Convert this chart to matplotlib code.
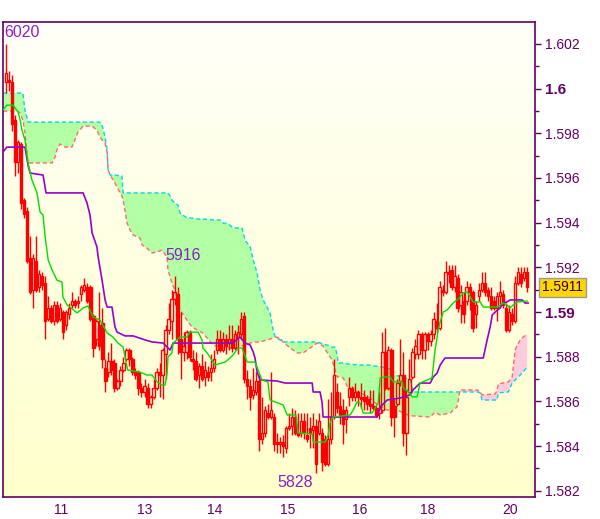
import numpy as np
import matplotlib.pyplot as plt
from matplotlib.patches import Rectangle
from matplotlib.colors import LinearSegmentedColormap
from matplotlib.ticker import MultipleLocator
import matplotlib.transforms as mtransforms

plt.rcParams['font.family'] = ['Liberation Sans', 'DejaVu Sans']

#---------------
# DATA (hourly bars)
#---------------
opens = [1.6003, 1.6004, 1.6003, 1.5986, 1.5967, 1.5975, 1.5950, 1.5945, 1.5924, 1.5910,
         1.5923, 1.5911, 1.5916, 1.5913, 1.5897, 1.5902, 1.5896, 1.5903, 1.5897, 1.5900,
         1.5894, 1.5899, 1.5903, 1.5905, 1.5904, 1.5908, 1.5910, 1.5911, 1.5911, 1.5898,
         1.5888, 1.5894, 1.5895, 1.5875, 1.5873, 1.5878, 1.5877, 1.5866, 1.5869, 1.5874,
         1.5879, 1.5883, 1.5879, 1.5873, 1.5873, 1.5866, 1.5864, 1.5866, 1.5859, 1.5862,
         1.5866, 1.5873, 1.5872, 1.5881, 1.5892, 1.5896, 1.5906, 1.5908, 1.5888, 1.5882,
         1.5882, 1.5891, 1.5879, 1.5878, 1.5872, 1.5876, 1.5871, 1.5873, 1.5873, 1.5875,
         1.5883, 1.5888, 1.5883, 1.5888, 1.5886, 1.5888, 1.5884, 1.5889, 1.5890, 1.5898,
         1.5870, 1.5867, 1.5863, 1.5864, 1.5869, 1.5843, 1.5846, 1.5855, 1.5853, 1.5853,
         1.5842, 1.5841, 1.5842, 1.5839, 1.5848, 1.5849, 1.5853, 1.5846, 1.5846, 1.5851,
         1.5845, 1.5848, 1.5847, 1.5849, 1.5846, 1.5846, 1.5843, 1.5832, 1.5843, 1.5853,
         1.5864, 1.5858, 1.5856, 1.5852, 1.5862, 1.5866, 1.5862, 1.5864, 1.5862, 1.5862,
         1.5861, 1.5859, 1.5858, 1.5857, 1.5855, 1.5856, 1.5882, 1.5866, 1.5883, 1.5858,
         1.5859, 1.5869, 1.5872, 1.5846, 1.5864, 1.5871, 1.5881, 1.5881, 1.5890, 1.5883,
         1.5890, 1.5887, 1.5890, 1.5896, 1.5893, 1.5910, 1.5909, 1.5918, 1.5919, 1.5911,
         1.5915, 1.5903, 1.5905, 1.5905, 1.5911, 1.5909, 1.5899, 1.5907, 1.5910, 1.5913,
         1.5910, 1.5907, 1.5905, 1.5902, 1.5907, 1.5908, 1.5902, 1.5892, 1.5899, 1.5896,
         1.5913, 1.5917, 1.5915, 1.5918]
highs = [1.6020, 1.6008, 1.6006, 1.5988, 1.5977, 1.5976, 1.5951, 1.5947, 1.5934, 1.5926,
         1.5934, 1.5919, 1.5918, 1.5916, 1.5907, 1.5903, 1.5905, 1.5905, 1.5904, 1.5901,
         1.5901, 1.5904, 1.5909, 1.5906, 1.5907, 1.5912, 1.5915, 1.5913, 1.5912, 1.5899,
         1.5897, 1.5909, 1.5902, 1.5879, 1.5882, 1.5886, 1.5879, 1.5870, 1.5876, 1.5880,
         1.5884, 1.5884, 1.5880, 1.5875, 1.5874, 1.5868, 1.5870, 1.5868, 1.5863, 1.5870,
         1.5875, 1.5877, 1.5884, 1.5894, 1.5904, 1.5910, 1.5916, 1.5911, 1.5900, 1.5891,
         1.5892, 1.5892, 1.5883, 1.5882, 1.5877, 1.5881, 1.5878, 1.5876, 1.5881, 1.5883,
         1.5892, 1.5892, 1.5891, 1.5890, 1.5894, 1.5894, 1.5892, 1.5894, 1.5900, 1.5900,
         1.5874, 1.5870, 1.5875, 1.5873, 1.5872, 1.5862, 1.5858, 1.5859, 1.5873, 1.5855,
         1.5846, 1.5844, 1.5845, 1.5849, 1.5855, 1.5857, 1.5856, 1.5855, 1.5855, 1.5855,
         1.5855, 1.5853, 1.5855, 1.5852, 1.5855, 1.5848, 1.5845, 1.5861, 1.5864, 1.5879,
         1.5868, 1.5864, 1.5861, 1.5858, 1.5871, 1.5867, 1.5868, 1.5865, 1.5868, 1.5865,
         1.5863, 1.5865, 1.5865, 1.5859, 1.5864, 1.5891, 1.5893, 1.5885, 1.5884, 1.5861,
         1.5870, 1.5888, 1.5882, 1.5865, 1.5879, 1.5884, 1.5888, 1.5892, 1.5891, 1.5891,
         1.5891, 1.5892, 1.5900, 1.5904, 1.5914, 1.5912, 1.5923, 1.5921, 1.5921, 1.5921,
         1.5917, 1.5912, 1.5909, 1.5914, 1.5913, 1.5910, 1.5905, 1.5913, 1.5918, 1.5918,
         1.5911, 1.5911, 1.5907, 1.5909, 1.5914, 1.5910, 1.5904, 1.5903, 1.5902, 1.5916,
         1.5920, 1.5920, 1.5920, 1.5920]
lows = [1.5998, 1.5999, 1.5981, 1.5961, 1.5962, 1.5946, 1.5942, 1.5922, 1.5908, 1.5902,
        1.5909, 1.5909, 1.5910, 1.5888, 1.5896, 1.5895, 1.5894, 1.5895, 1.5896, 1.5888,
        1.5892, 1.5897, 1.5902, 1.5902, 1.5902, 1.5905, 1.5909, 1.5904, 1.5896, 1.5880,
        1.5885, 1.5883, 1.5875, 1.5864, 1.5871, 1.5872, 1.5864, 1.5865, 1.5867, 1.5873,
        1.5878, 1.5876, 1.5872, 1.5870, 1.5863, 1.5862, 1.5862, 1.5857, 1.5857, 1.5861,
        1.5865, 1.5862, 1.5861, 1.5870, 1.5890, 1.5888, 1.5903, 1.5881, 1.5870, 1.5878,
        1.5879, 1.5878, 1.5874, 1.5869, 1.5866, 1.5869, 1.5867, 1.5869, 1.5869, 1.5873,
        1.5881, 1.5882, 1.5882, 1.5881, 1.5883, 1.5882, 1.5883, 1.5881, 1.5888, 1.5868,
        1.5861, 1.5856, 1.5861, 1.5863, 1.5838, 1.5841, 1.5844, 1.5852, 1.5852, 1.5838,
        1.5837, 1.5837, 1.5835, 1.5837, 1.5847, 1.5845, 1.5845, 1.5844, 1.5844, 1.5843,
        1.5842, 1.5839, 1.5839, 1.5828, 1.5845, 1.5829, 1.5831, 1.5831, 1.5841, 1.5852,
        1.5855, 1.5850, 1.5841, 1.5846, 1.5858, 1.5860, 1.5860, 1.5858, 1.5857, 1.5856,
        1.5856, 1.5855, 1.5856, 1.5853, 1.5852, 1.5855, 1.5865, 1.5865, 1.5849, 1.5844,
        1.5858, 1.5867, 1.5840, 1.5836, 1.5863, 1.5870, 1.5879, 1.5879, 1.5879, 1.5879,
        1.5883, 1.5885, 1.5888, 1.5891, 1.5892, 1.5907, 1.5908, 1.5913, 1.5910, 1.5909,
        1.5900, 1.5895, 1.5895, 1.5903, 1.5901, 1.5891, 1.5893, 1.5905, 1.5909, 1.5907,
        1.5905, 1.5901, 1.5901, 1.5896, 1.5902, 1.5902, 1.5891, 1.5891, 1.5894, 1.5895,
        1.5912, 1.5911, 1.5914, 1.5909]
closes = [1.6007, 1.6003, 1.5984, 1.5967, 1.5976, 1.5949, 1.5944, 1.5923, 1.5909, 1.5924,
          1.5910, 1.5917, 1.5912, 1.5896, 1.5902, 1.5896, 1.5903, 1.5896, 1.5902, 1.5891,
          1.5900, 1.5902, 1.5905, 1.5903, 1.5905, 1.5911, 1.5912, 1.5905, 1.5897, 1.5884,
          1.5896, 1.5885, 1.5879, 1.5869, 1.5878, 1.5874, 1.5866, 1.5869, 1.5874, 1.5877,
          1.5883, 1.5879, 1.5873, 1.5872, 1.5866, 1.5864, 1.5867, 1.5859, 1.5862, 1.5866,
          1.5873, 1.5872, 1.5883, 1.5892, 1.5897, 1.5906, 1.5909, 1.5888, 1.5882, 1.5885,
          1.5891, 1.5880, 1.5878, 1.5870, 1.5876, 1.5870, 1.5874, 1.5871, 1.5875, 1.5879,
          1.5888, 1.5883, 1.5888, 1.5885, 1.5888, 1.5884, 1.5890, 1.5891, 1.5897, 1.5870,
          1.5867, 1.5862, 1.5865, 1.5869, 1.5843, 1.5846, 1.5856, 1.5853, 1.5856, 1.5841,
          1.5841, 1.5842, 1.5840, 1.5848, 1.5849, 1.5853, 1.5846, 1.5845, 1.5851, 1.5846,
          1.5843, 1.5846, 1.5849, 1.5832, 1.5851, 1.5833, 1.5832, 1.5843, 1.5853, 1.5872,
          1.5857, 1.5854, 1.5850, 1.5856, 1.5866, 1.5862, 1.5864, 1.5862, 1.5861, 1.5860,
          1.5859, 1.5858, 1.5857, 1.5854, 1.5857, 1.5882, 1.5866, 1.5883, 1.5853, 1.5853,
          1.5868, 1.5872, 1.5846, 1.5862, 1.5870, 1.5882, 1.5885, 1.5890, 1.5883, 1.5890,
          1.5887, 1.5890, 1.5897, 1.5893, 1.5911, 1.5909, 1.5918, 1.5917, 1.5911, 1.5916,
          1.5902, 1.5909, 1.5899, 1.5911, 1.5909, 1.5893, 1.5903, 1.5910, 1.5913, 1.5909,
          1.5907, 1.5902, 1.5902, 1.5907, 1.5909, 1.5903, 1.5892, 1.5900, 1.5896, 1.5913,
          1.5918, 1.5913, 1.5918, 1.5911]

# conversion line (green) and base line (purple): bar position, price
tenkan_x = [-1.0, 0.3, 2.3, 4.0, 4.7, 5.3, 6.3, 7.3, 8.6, 10.3, 11.3, 12.3, 13.0, 14.0,
            15.3, 16.9, 18.6, 18.9, 20.3, 21.3, 23.6, 25.6, 27.2, 28.9, 31.2, 33.6, 35.5,
            37.2, 38.9, 40.2, 40.5, 44.5, 46.8, 48.5, 50.2, 51.8, 52.8, 53.5, 53.8, 55.1,
            55.5, 57.8, 60.1, 61.1, 63.8, 65.1, 65.4, 66.8, 69.4, 72.8, 74.4, 75.4, 77.1,
            78.4, 80.1, 82.7, 85.0, 87.0, 87.7, 92.0, 93.4, 96.3, 97.0, 101.7, 102.0, 106.0,
            107.0, 107.6, 108.6, 114.3, 115.3, 116.6, 117.6, 118.6, 121.6, 122.6, 123.6,
            124.3, 125.9, 127.6, 128.6, 131.6, 131.9, 132.6, 133.2, 134.9, 136.5, 136.9,
            137.5, 141.5, 141.9, 142.5, 143.2, 143.5, 144.2, 145.2, 146.5, 148.5, 149.8,
            150.8, 151.8, 153.2, 154.2, 155.1, 157.5, 158.5, 163.1, 164.1, 165.1, 166.4,
            167.4, 168.4, 169.8, 173.1]
tenkan = [1.59904, 1.59926, 1.59926, 1.59895, 1.59859, 1.59814, 1.59770, 1.59667, 1.59591,
          1.59533, 1.59448, 1.59434, 1.59336, 1.59233, 1.59188, 1.59143, 1.59134, 1.59067,
          1.59031, 1.59022, 1.58996, 1.59018, 1.59027, 1.58978, 1.58964, 1.58906, 1.58888,
          1.58861, 1.58843, 1.58754, 1.58740, 1.58731, 1.58718, 1.58718, 1.58687, 1.58673,
          1.58673, 1.58727, 1.58799, 1.58817, 1.58861, 1.58888, 1.58888, 1.58910, 1.58910,
          1.58875, 1.58839, 1.58817, 1.58763, 1.58776, 1.58794, 1.58808, 1.58839, 1.58839,
          1.58776, 1.58776, 1.58696, 1.58687, 1.58606, 1.58584, 1.58539, 1.58539, 1.58459,
          1.58454, 1.58418, 1.58418, 1.58450, 1.58503, 1.58530, 1.58539, 1.58561, 1.58597,
          1.58593, 1.58548, 1.58548, 1.58570, 1.58593, 1.58705, 1.58709, 1.58709, 1.58687,
          1.58687, 1.58664, 1.58651, 1.58651, 1.58620, 1.58620, 1.58642, 1.58682, 1.58705,
          1.58754, 1.58830, 1.58888, 1.58919, 1.58955, 1.59000, 1.59009, 1.59040, 1.59054,
          1.59067, 1.59085, 1.59090, 1.59067, 1.59045, 1.59045, 1.59022, 1.59022, 1.59031,
          1.59040, 1.59031, 1.59018, 1.59031, 1.59045, 1.59049]

kijun_x = [-1.0, 0.3, 6.3, 7.3, 8.0, 12.3, 13.3, 25.6, 26.9, 27.9, 28.6, 30.2, 30.6, 31.9,
           32.9, 33.6, 35.2, 36.2, 36.9, 39.5, 42.2, 46.2, 48.5, 52.2, 53.8, 54.5, 55.5,
           75.4, 77.7, 79.4, 81.1, 82.1, 82.7, 83.4, 84.4, 90.0, 92.7, 101.7, 102.0, 104.3,
           105.0, 105.3, 123.3, 124.3, 126.6, 130.9, 134.2, 135.2, 137.5, 140.9, 141.9,
           143.2, 144.2, 145.8, 158.5, 159.8, 160.8, 161.5, 162.5, 164.1, 165.1, 166.4,
           167.4, 171.4, 172.4, 173.4]
kijun = [1.59716, 1.59738, 1.59738, 1.59658, 1.59622, 1.59613, 1.59533, 1.59533, 1.59488,
         1.59434, 1.59354, 1.59291, 1.59246, 1.59143, 1.59054, 1.59022, 1.59022, 1.58933,
         1.58910, 1.58893, 1.58893, 1.58875, 1.58866, 1.58861, 1.58839, 1.58830, 1.58861,
         1.58861, 1.58888, 1.58861, 1.58852, 1.58821, 1.58794, 1.58731, 1.58696, 1.58691,
         1.58682, 1.58682, 1.58642, 1.58642, 1.58593, 1.58530, 1.58530, 1.58575, 1.58606,
         1.58615, 1.58629, 1.58651, 1.58682, 1.58682, 1.58709, 1.58727, 1.58763, 1.58794,
         1.58794, 1.58875, 1.58933, 1.58987, 1.59000, 1.59018, 1.59040, 1.59045, 1.59054,
         1.59054, 1.59040, 1.59040]

# cloud: leading span A (cyan) and span B (salmon) on one shared grid
cloud_x = [-1.0, 3.7, 4.7, 5.6, 6.3, 7.0, 7.3, 15.3, 16.3, 16.9, 17.9, 19.6, 21.9, 22.9,
           23.9, 25.6, 28.6, 30.2, 31.2, 31.9, 32.9, 33.6, 33.9, 34.6, 36.2, 37.9, 38.5,
           38.9, 39.5, 40.2, 41.2, 42.2, 44.5, 45.2, 46.8, 48.5, 50.2, 51.8, 53.5, 53.8,
           54.5, 55.1, 56.1, 57.1, 57.8, 60.1, 61.8, 63.5, 65.4, 68.8, 71.1, 72.1, 73.4,
           75.1, 76.7, 78.4, 79.4, 81.1, 82.1, 83.4, 84.4, 85.4, 86.7, 87.7, 88.7, 89.4,
           91.0, 92.0, 94.4, 96.7, 98.7, 101.0, 103.3, 105.3, 106.6, 108.3, 109.3, 110.0,
           110.3, 112.0, 113.6, 117.6, 120.3, 122.6, 123.6, 126.6, 128.2, 128.6, 130.2,
           131.9, 134.2, 135.2, 140.9, 142.5, 144.2, 147.5, 149.8, 150.8, 156.5, 157.5,
           158.1, 162.5, 163.1, 163.5, 166.8, 168.1, 169.1, 169.8, 170.8, 171.4, 173.1]
span_a = [1.59980, 1.59980, 1.59980, 1.59980, 1.59904, 1.59868, 1.59850, 1.59850, 1.59850,
          1.59850, 1.59850, 1.59850, 1.59850, 1.59850, 1.59850, 1.59850, 1.59850, 1.59850,
          1.59850, 1.59837, 1.59783, 1.59725, 1.59635, 1.59613, 1.59613, 1.59609, 1.59609,
          1.59533, 1.59533, 1.59533, 1.59533, 1.59533, 1.59533, 1.59533, 1.59533, 1.59533,
          1.59533, 1.59533, 1.59533, 1.59533, 1.59519, 1.59501, 1.59488, 1.59479, 1.59443,
          1.59421, 1.59421, 1.59416, 1.59416, 1.59412, 1.59412, 1.59398, 1.59398, 1.59380,
          1.59376, 1.59376, 1.59322, 1.59291, 1.59233, 1.59175, 1.59098, 1.59054, 1.59022,
          1.58996, 1.58919, 1.58888, 1.58875, 1.58866, 1.58866, 1.58866, 1.58866, 1.58866,
          1.58866, 1.58857, 1.58852, 1.58843, 1.58843, 1.58808, 1.58772, 1.58772, 1.58767,
          1.58763, 1.58763, 1.58758, 1.58758, 1.58749, 1.58740, 1.58718, 1.58714, 1.58709,
          1.58696, 1.58642, 1.58642, 1.58642, 1.58642, 1.58642, 1.58642, 1.58642, 1.58642,
          1.58638, 1.58606, 1.58606, 1.58606, 1.58638, 1.58642, 1.58682, 1.58696, 1.58705,
          1.58718, 1.58727, 1.58754]
span_b = [1.59899, 1.59899, 1.59891, 1.59859, 1.59801, 1.59712, 1.59667, 1.59667, 1.59694,
          1.59725, 1.59752, 1.59738, 1.59738, 1.59770, 1.59806, 1.59832, 1.59832, 1.59814,
          1.59783, 1.59770, 1.59756, 1.59712, 1.59635, 1.59613, 1.59577, 1.59533, 1.59519,
          1.59501, 1.59456, 1.59398, 1.59367, 1.59345, 1.59331, 1.59300, 1.59286, 1.59264,
          1.59269, 1.59277, 1.59246, 1.59188, 1.59157, 1.59130, 1.59098, 1.59040, 1.59009,
          1.58964, 1.58933, 1.58919, 1.58906, 1.58852, 1.58843, 1.58839, 1.58839, 1.58839,
          1.58839, 1.58848, 1.58852, 1.58861, 1.58866, 1.58866, 1.58866, 1.58870, 1.58875,
          1.58879, 1.58884, 1.58888, 1.58884, 1.58866, 1.58839, 1.58817, 1.58817, 1.58839,
          1.58861, 1.58848, 1.58821, 1.58785, 1.58740, 1.58709, 1.58709, 1.58705, 1.58660,
          1.58638, 1.58620, 1.58593, 1.58584, 1.58561, 1.58561, 1.58561, 1.58561, 1.58548,
          1.58535, 1.58535, 1.58530, 1.58552, 1.58539, 1.58548, 1.58575, 1.58651, 1.58651,
          1.58642, 1.58629, 1.58633, 1.58651, 1.58678, 1.58687, 1.58709, 1.58830, 1.58852,
          1.58875, 1.58884, 1.58902]

# day labels on the time axis (bar position of each day)
day_pos = [18.3, 46.2, 69.4, 93.4, 117.6, 140.2, 167.4]
day_labels = ['11', '13', '14', '15', '16', '18', '20']

y_ticks = [1.582, 1.584, 1.586, 1.588, 1.590, 1.592, 1.594, 1.596, 1.598, 1.600, 1.602]

#---------------
# PLOT
#---------------
axcol = '#660066'
markcol = '#8B20C8'

fig = plt.figure(figsize=(6.0, 5.19), dpi=100)
ax = fig.add_axes([0.005, 0.0424, 0.8867, 0.9152])

# background gradient (white at top -> pale yellow at bottom)
grad = np.linspace(0, 1, 256).reshape(-1, 1)
bgmap = LinearSegmentedColormap.from_list('bg', ['#FFFFCC', '#FFFFF8'])
ax.imshow(grad, extent=[0, 1, 0, 1], transform=ax.transAxes, cmap=bgmap,
          aspect='auto', origin='lower', zorder=0)

# cloud
ca = np.array(span_a)
cb = np.array(span_b)
ax.fill_between(cloud_x, ca, cb, where=ca >= cb, interpolate=True,
                color='#B3FFA3', lw=0, zorder=1)
ax.fill_between(cloud_x, ca, cb, where=ca < cb, interpolate=True,
                color='#FFCCDD', lw=0, zorder=1)
ax.plot(cloud_x, span_a, color='#00D8E8', lw=1, ls=(0, (3, 2)), zorder=2)
ax.plot(cloud_x, span_b, color='#FF6A6A', lw=1, ls=(0, (3, 2)), zorder=2)

# candles
bw = 0.8
for i in range(len(closes)):
    o, h, l, c = opens[i], highs[i], lows[i], closes[i]
    top = max(o, c)
    bot = min(o, c)
    ax.vlines(i, top, h, color='red', lw=1, zorder=3)
    ax.vlines(i, l, bot, color='red', lw=1, zorder=3)
    fc = 'none' if c > o else 'red'
    ax.add_patch(Rectangle((i - bw / 2, bot), bw, max(top - bot, 0.00002),
                           facecolor=fc, edgecolor='red', lw=1, zorder=4))

# tenkan / kijun
ax.plot(kijun_x, kijun, color='#9900CC', lw=1.2, zorder=5)
ax.plot(tenkan_x, tenkan, color='#00DD00', lw=1, zorder=5)

# high / low marks
def pip_label(v):
    return ('%.0f' % (v * 10000))[-4:]

ax.text(-0.6, 1.60253, pip_label(max(highs)), color=markcol, fontsize=11.5,
        ha='left', va='center', zorder=6)
ax.text(52.8, 1.59255, pip_label(highs[56]), color=markcol, fontsize=11.5,
        ha='left', va='center', zorder=6)
ax.text(90.0, 1.58235, pip_label(min(lows)), color=markcol, fontsize=11.5,
        ha='left', va='center', zorder=6)

# axes
ax.set_xlim(-1.0, 175.7)
ax.set_ylim(1.58172, 1.60298)

ax.yaxis.tick_right()
ylabs = [('%.3f' % v).rstrip('0') for v in y_ticks]
ax.set_yticks(y_ticks)
ax.set_yticklabels(ylabs)
ax.yaxis.set_minor_locator(MultipleLocator(0.001))
ax.tick_params(axis='y', which='major', length=4, width=1, color=axcol,
               labelcolor=axcol, labelsize=10, pad=3)
ax.tick_params(axis='y', which='minor', length=3, width=1, color=axcol)
for lbl in ax.get_yticklabels():
    if len(lbl.get_text()) < 5:
        lbl.set_fontweight('bold')
        lbl.set_fontsize(11)

ax.set_xticks(day_pos)
ax.set_xticklabels(day_labels)
ax.tick_params(axis='x', length=0, pad=4, labelcolor=axcol, labelsize=10)

for s in ax.spines.values():
    s.set_color(axcol)
    s.set_linewidth(1.2)

# last price tag
trans = mtransforms.blended_transform_factory(ax.transAxes, ax.transData)
ax.text(1.0132, closes[-1], '%.4f' % closes[-1], transform=trans, fontsize=10,
        color='#330033', ha='left', va='center', clip_on=False,
        bbox=dict(boxstyle='square,pad=0.2', fc='#FFD700', ec='#9A9A9A', lw=1))

fig.savefig('out.png', dpi=100)
plt.close(fig)
